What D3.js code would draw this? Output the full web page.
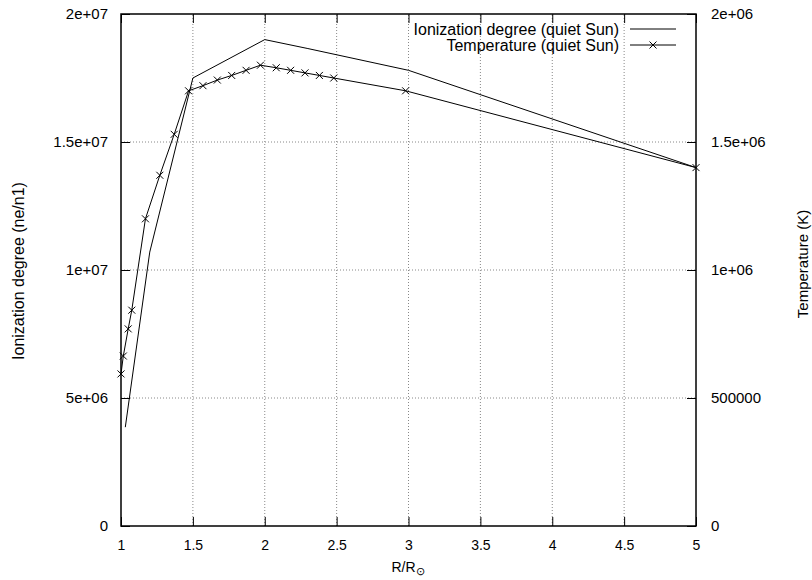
<!DOCTYPE html>
<html>
<head>
<meta charset="utf-8">
<script src="https://cdn.jsdelivr.net/npm/d3@7"></script>
<style>
html,body{margin:0;padding:0;background:#fff;}
svg{display:block;font-family:"Liberation Sans",Arial,Helvetica,sans-serif;}
</style>
</head>
<body>
<svg id="chart" width="812" height="580"></svg>
<script>
// ---- data ----
const ionR = [1.03, 1.2, 1.5, 2.0, 2.3, 3.0, 5.0];
const ionVal = [3.86e6, 1.07e7, 1.75e7, 1.9e7, 1.865e7, 1.78e7, 1.4e7];
const tempR = [1.0, 1.016, 1.05, 1.075, 1.17, 1.27, 1.37, 1.47, 1.57, 1.67, 1.77, 1.87, 1.97, 2.08, 2.18, 2.28, 2.38, 2.48, 2.98, 5.0];
const tempVal = [5.94e5, 6.64e5, 7.7e5, 8.43e5, 1.2e6, 1.37e6, 1.53e6, 1.70e6, 1.72e6, 1.742e6, 1.76e6, 1.78e6, 1.80e6, 1.79e6, 1.78e6, 1.77e6, 1.76e6, 1.75e6, 1.70e6, 1.40e6];
const xTicks = [1, 1.5, 2, 2.5, 3, 3.5, 4, 4.5, 5];
const yTicks = [0, 5e6, 1e7, 1.5e7, 2e7];
const yTickLabels = ["0", "5e+06", "1e+07", "1.5e+07", "2e+07"];
const y2Ticks = [0, 5e5, 1e6, 1.5e6, 2e6];
const y2TickLabels = ["0", "500000", "1e+06", "1.5e+06", "2e+06"];
const legendLabels = ["Ionization degree (quiet Sun)", "Temperature (quiet Sun)"];

// ---- layout ----
const L = 121, R = 696, T = 14, B = 526;
const svg = d3.select("#chart");
const x = d3.scaleLinear().domain([1, 5]).range([L, R]);
const y = d3.scaleLinear().domain([0, 2e7]).range([B, T]);
const y2 = d3.scaleLinear().domain([0, 2e6]).range([B, T]);
const fs = 14;
const tickLen = 9;

// grid
const grid = svg.append("g").attr("stroke", "#888").attr("stroke-width", 1).attr("stroke-dasharray", "1,2");
xTicks.slice(1, -1).forEach(v => {
  grid.append("line").attr("x1", x(v)).attr("x2", x(v)).attr("y1", B).attr("y2", T);
});
yTicks.slice(1, -1).forEach(v => {
  grid.append("line").attr("x1", L).attr("x2", R).attr("y1", y(v)).attr("y2", y(v));
});

// axes (inward ticks)
const fmtY = (d, i) => yTickLabels[i];
const fmtY2 = (d, i) => y2TickLabels[i];
const axB = svg.append("g").attr("transform", `translate(0,${B})`)
  .call(d3.axisBottom(x).tickValues(xTicks).tickSize(-tickLen).tickPadding(14).tickFormat(d3.format("")));
const axT = svg.append("g").attr("transform", `translate(0,${T})`)
  .call(d3.axisTop(x).tickValues(xTicks).tickSize(-tickLen).tickFormat(""));
const axL = svg.append("g").attr("transform", `translate(${L},0)`)
  .call(d3.axisLeft(y).tickValues(yTicks).tickSize(-tickLen).tickPadding(13).tickFormat(fmtY));
const axR = svg.append("g").attr("transform", `translate(${R},0)`)
  .call(d3.axisRight(y2).tickValues(y2Ticks).tickSize(-tickLen).tickPadding(15).tickFormat(fmtY2));
[axB, axT, axL, axR].forEach(g => {
  g.select(".domain").remove();
  g.selectAll(".tick line").attr("stroke", "#000").attr("stroke-width", 1);
  g.selectAll("text").attr("font-size", fs).attr("fill", "#000").attr("font-family", "Liberation Sans, Arial, sans-serif");
});
axL.selectAll("text").attr("font-size", 15);
axR.selectAll("text").attr("font-size", 15);
axB.selectAll("text").attr("dy", "0.71em");

// frame
svg.append("rect").attr("x", L).attr("y", T).attr("width", R - L).attr("height", B - T)
  .attr("fill", "none").attr("stroke", "#000").attr("stroke-width", 1.5);

// lines
const lineIon = d3.line().x(d => x(d[0])).y(d => y(d[1]));
const lineT = d3.line().x(d => x(d[0])).y(d => y2(d[1]));
const ionData = ionR.map((r, i) => [r, ionVal[i]]);
const tData = tempR.map((r, i) => [r, tempVal[i]]);
svg.append("path").attr("d", lineIon(ionData)).attr("fill", "none").attr("stroke", "#000").attr("stroke-width", 1);
svg.append("path").attr("d", lineT(tData)).attr("fill", "none").attr("stroke", "#000").attr("stroke-width", 1);
const cs = 3.5;
const cross = (g, cx, cy) => {
  g.append("path").attr("d", `M${cx - cs},${cy - cs}L${cx + cs},${cy + cs}M${cx - cs},${cy + cs}L${cx + cs},${cy - cs}`)
    .attr("stroke", "#000").attr("stroke-width", 1).attr("fill", "none");
};
const marks = svg.append("g");
tData.forEach(d => cross(marks, x(d[0]), y2(d[1])));

// legend
const lg = svg.append("g").attr("font-size", 16);
[29, 45].forEach((ly, i) => {
  lg.append("text").attr("x", 619).attr("y", ly).attr("dy", "0.35em").attr("text-anchor", "end").text(legendLabels[i]);
  lg.append("line").attr("x1", 630).attr("x2", 676).attr("y1", ly).attr("y2", ly).attr("stroke", "#000");
  if (i === 1) cross(lg, 653, ly);
});

// axis titles
svg.append("text").attr("transform", "translate(24,271) rotate(-90)").attr("text-anchor", "middle")
  .attr("font-size", 16).text("Ionization degree (ne/n1)");
svg.append("text").attr("transform", "translate(808,264) rotate(-90)").attr("text-anchor", "middle")
  .attr("font-size", 15).text("Temperature (K)");
const xl = svg.append("text").attr("x", 408).attr("y", 572).attr("text-anchor", "middle").attr("font-size", fs);
xl.append("tspan").text("R/R");
xl.append("tspan").attr("font-size", 11).attr("dy", 3).text("\u2299");
</script>
</body>
</html>
